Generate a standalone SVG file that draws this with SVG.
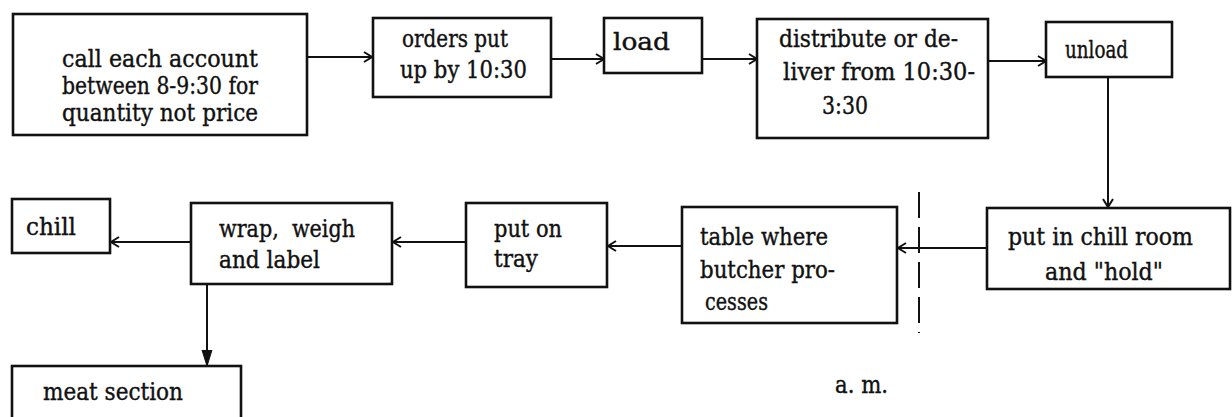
<svg xmlns="http://www.w3.org/2000/svg" width="1232" height="417" viewBox="0 0 1232 417">
<style>
.box{fill:#fff;stroke:#111;stroke-width:2.6}
.conn{fill:none;stroke:#111;stroke-width:2}
.t{font-family:"DejaVu Serif","Liberation Serif",serif;font-size:24px;fill:#111;stroke:#111;stroke-width:0.4}
</style>
<defs>
<marker id="open" markerUnits="userSpaceOnUse" markerWidth="14" markerHeight="14" refX="10" refY="6" orient="auto">
<path d="M2,1 L10,6 L2,11" fill="none" stroke="#111" stroke-width="2"/>
</marker>
<marker id="solid" markerUnits="userSpaceOnUse" markerWidth="20" markerHeight="14" refX="16" refY="6" orient="auto">
<path d="M0,1 L16,6 L0,11 Z" fill="#111" stroke="#111" stroke-width="1"/>
</marker>
</defs>
<rect width="1232" height="417" fill="#fff"/>
<g id="connectors">
<line class="conn" x1="307" y1="57" x2="372" y2="57" marker-end="url(#open)"/>
<line class="conn" x1="551" y1="59" x2="604" y2="59" marker-end="url(#open)"/>
<line class="conn" x1="702" y1="59" x2="757" y2="59" marker-end="url(#open)"/>
<line class="conn" x1="988" y1="61" x2="1046" y2="61" marker-end="url(#open)"/>
<line class="conn" x1="1108" y1="77" x2="1108" y2="207" stroke-width="2.4" marker-end="url(#open)"/>
<line class="conn" x1="987" y1="248" x2="898" y2="248" marker-end="url(#open)"/>
<line class="conn" x1="682" y1="246" x2="608" y2="246" marker-end="url(#open)"/>
<line class="conn" x1="466" y1="242" x2="393" y2="242" marker-end="url(#open)"/>
<line class="conn" x1="191" y1="242" x2="111" y2="242" marker-end="url(#open)"/>
<line class="conn" x1="207" y1="284" x2="207" y2="366" stroke-width="2.6" marker-end="url(#solid)"/>
<line class="conn" x1="919" y1="192" x2="919" y2="333" stroke-width="2.8" stroke-dasharray="26 9"/>
</g>
<g id="n1"><rect class="box" x="13" y="14" width="294" height="121"/>
<text class="t" x="62" y="67" textLength="196" lengthAdjust="spacingAndGlyphs">call each account</text>
<text class="t" x="62" y="94" textLength="196" lengthAdjust="spacingAndGlyphs">between 8-9:30 for</text>
<text class="t" x="62" y="121" textLength="196" lengthAdjust="spacingAndGlyphs">quantity not price</text></g>
<g id="n2"><rect class="box" x="373" y="18" width="178" height="79"/>
<text class="t" x="402" y="47" textLength="106" lengthAdjust="spacingAndGlyphs">orders put</text>
<text class="t" x="400" y="78" textLength="127" lengthAdjust="spacingAndGlyphs">up by 10:30</text></g>
<g id="n3"><rect class="box" x="604" y="18" width="98" height="55"/>
<text class="t" x="613" y="50" textLength="57" lengthAdjust="spacingAndGlyphs">load</text></g>
<g id="n4"><rect class="box" x="757" y="19" width="231" height="119"/>
<text class="t" x="779" y="47" textLength="179" lengthAdjust="spacingAndGlyphs">distribute or de-</text>
<text class="t" x="783" y="80" textLength="192" lengthAdjust="spacingAndGlyphs">liver from 10:30-</text>
<text class="t" x="822" y="114" textLength="46" lengthAdjust="spacingAndGlyphs">3:30</text></g>
<g id="n5"><rect class="box" x="1046" y="22" width="126" height="55"/>
<text class="t" x="1065" y="58" textLength="63" lengthAdjust="spacingAndGlyphs">unload</text></g>
<g id="n6"><rect class="box" x="987" y="208" width="243" height="81"/>
<text class="t" x="1008" y="245" textLength="185" lengthAdjust="spacingAndGlyphs">put in chill room</text>
<text class="t" x="1045" y="280" textLength="118" lengthAdjust="spacingAndGlyphs">and "hold"</text></g>
<g id="n7"><rect class="box" x="682" y="207" width="215" height="116"/>
<text class="t" x="700" y="245" textLength="128" lengthAdjust="spacingAndGlyphs">table where</text>
<text class="t" x="700" y="278" textLength="135" lengthAdjust="spacingAndGlyphs">butcher pro-</text>
<text class="t" x="705" y="310" textLength="63" lengthAdjust="spacingAndGlyphs">cesses</text></g>
<g id="n8"><rect class="box" x="466" y="203" width="141" height="84"/>
<text class="t" x="494" y="237" textLength="68" lengthAdjust="spacingAndGlyphs">put on</text>
<text class="t" x="494" y="267" textLength="44" lengthAdjust="spacingAndGlyphs">tray</text></g>
<g id="n9"><rect class="box" x="191" y="203" width="201" height="81"/>
<text class="t" x="219" y="237" textLength="136" lengthAdjust="spacingAndGlyphs" xml:space="preserve">wrap,  weigh</text>
<text class="t" x="219" y="268" textLength="101" lengthAdjust="spacingAndGlyphs">and label</text></g>
<g id="n10"><rect class="box" x="12" y="199" width="98" height="54"/>
<text class="t" x="26" y="235" textLength="50" lengthAdjust="spacingAndGlyphs">chill</text></g>
<g id="n11"><rect class="box" x="12" y="366" width="229" height="60"/>
<text class="t" x="43" y="400" textLength="140" lengthAdjust="spacingAndGlyphs">meat section</text></g>
<g id="label-am"><text class="t" x="835" y="393" textLength="53" lengthAdjust="spacingAndGlyphs">a. m.</text></g>
</svg>
